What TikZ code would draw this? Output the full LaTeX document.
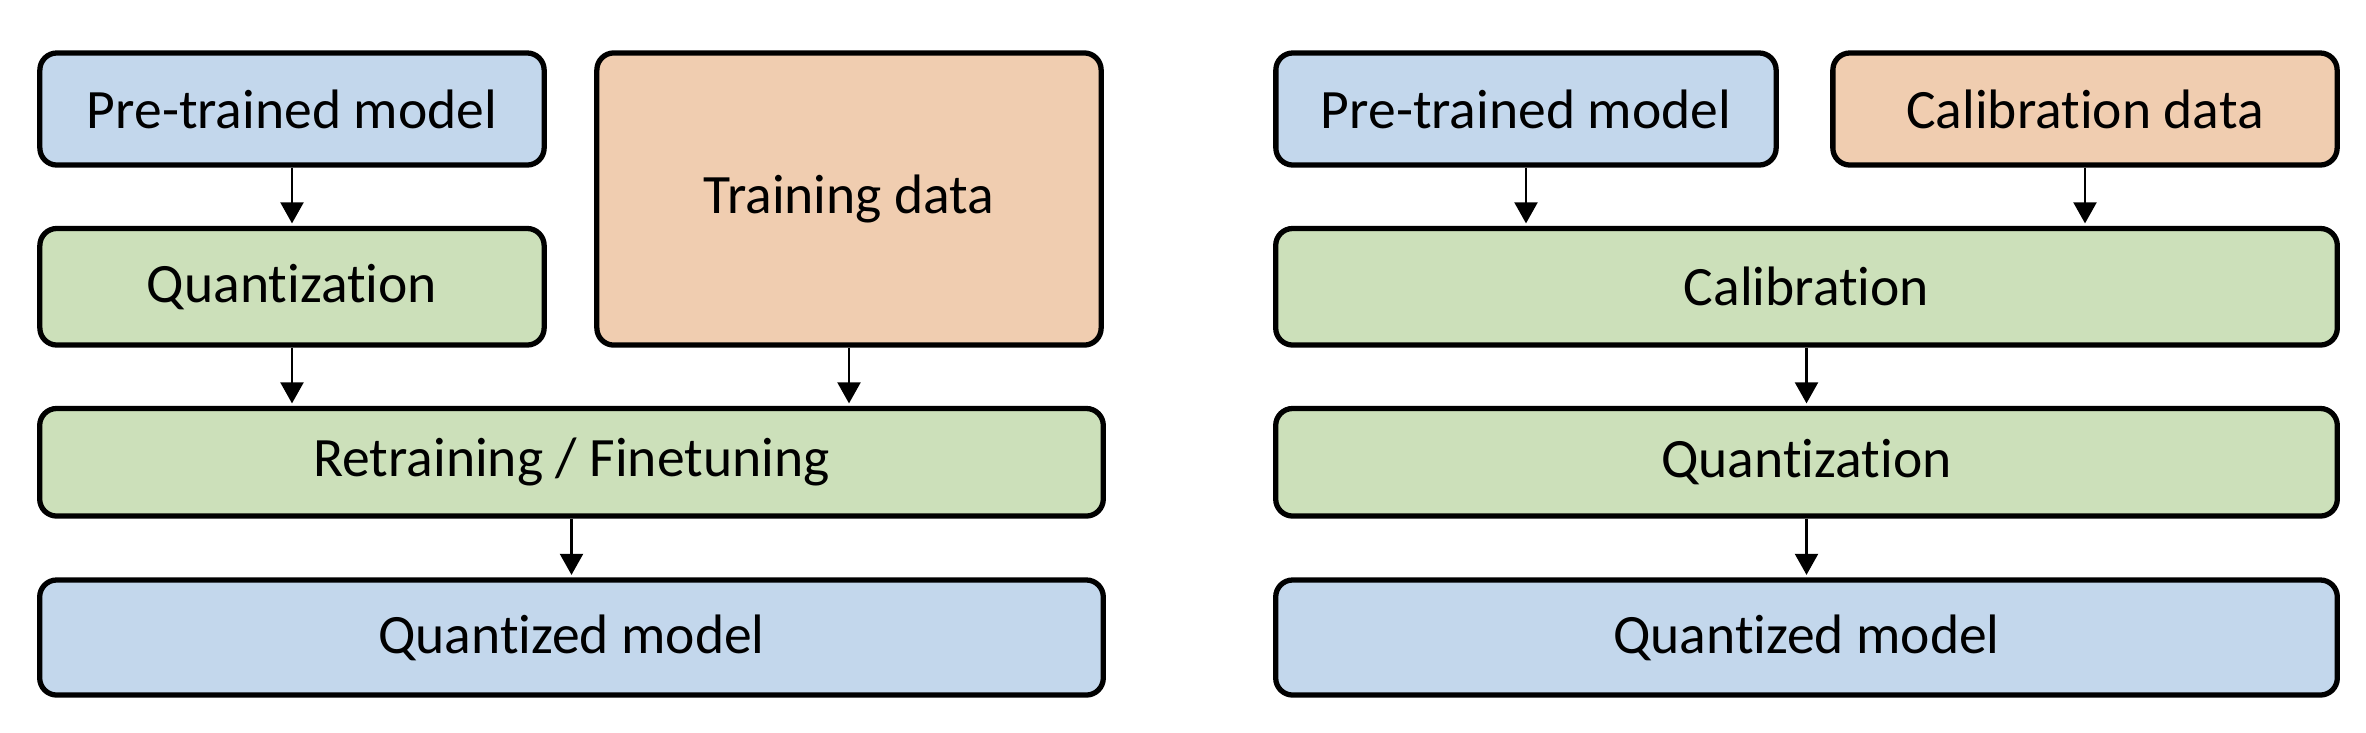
\documentclass[tikz,border=0pt]{standalone}
\usepackage{fontspec}
\setmainfont{Carlito}[Ligatures={NoCommon}]
\usetikzlibrary{arrows.meta}
\definecolor{modelblue}{HTML}{C3D7EC}
\definecolor{stagegreen}{HTML}{CCE0BA}
\definecolor{dataorange}{HTML}{F0CDB0}

\begin{document}
\begin{tikzpicture}[x=0.01cm,y=-0.01cm,
    box/.style={draw,line width=1.5pt,rounded corners=1.7mm,inner sep=0pt,
      font=\fontsize{15.8}{19}\selectfont},
    model/.style={box,fill=modelblue},
    stage/.style={box,fill=stagegreen},
    data/.style={box,fill=dataorange},
    flow/.style={-{Triangle[length=2.1mm,width=2.3mm]},line width=0.6pt,shorten >=0.7pt}]
    \useasboundingbox (0,0) rectangle (2366,732);
    % left: retraining
    \node[model,minimum width=5.04cm,minimum height=1.12cm] (pre) at (292,109) {Pre-trained model};
    \node[data,minimum width=5.04cm,minimum height=2.92cm] (train) at (849,199) {Training data};
    \node[stage,minimum width=5.04cm,minimum height=1.165cm] (quant) at (292,286.75) {Quantization};
    \node[stage,minimum width=10.63cm,minimum height=1.075cm] (retrain) at (571.5,462.25) {Retraining / Finetuning};
    \node[model,minimum width=10.63cm,minimum height=1.15cm] (qmodel) at (571.5,637.5) {Quantized model};
    % right: calibration
    \node[model,minimum width=5.0cm,minimum height=1.12cm] (pre2) at (1526,109) {Pre-trained model};
    \node[data,minimum width=5.04cm,minimum height=1.12cm] (calib) at (2085,109) {Calibration data};
    \node[stage,minimum width=10.61cm,minimum height=1.165cm] (calstep) at (1806.5,286.75) {Calibration};
    \node[stage,minimum width=10.61cm,minimum height=1.075cm] (quant2) at (1806.5,462.25) {Quantization};
    \node[model,minimum width=10.61cm,minimum height=1.15cm] (qmodel2) at (1806.5,637.5) {Quantized model};
    % arrows
    \draw[flow] (pre) -- (quant);
    \draw[flow] (quant) -- (quant |- retrain.north);
    \draw[flow] (train) -- (train |- retrain.north);
    \draw[flow] (retrain) -- (qmodel);
    \draw[flow] (pre2) -- (pre2 |- calstep.north);
    \draw[flow] (calib) -- (calib |- calstep.north);
    \draw[flow] (calstep) -- (quant2);
    \draw[flow] (quant2) -- (qmodel2);
\end{tikzpicture}
\end{document}
